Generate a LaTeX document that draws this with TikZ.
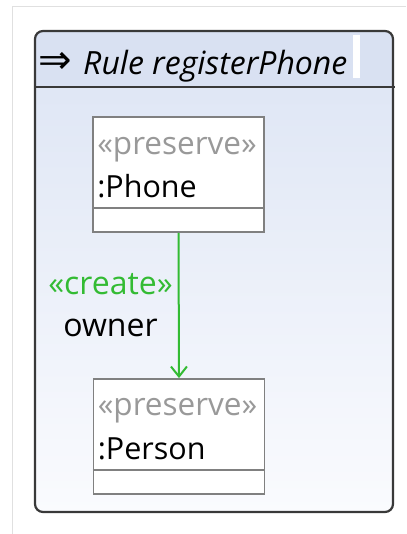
\documentclass[tikz,border=0pt]{standalone}
\usepackage{fontspec}
\setmainfont{Open Sans}
\newfontfamily\arrowfont{DejaVu Sans}
\usetikzlibrary{arrows.meta, positioning, calc}

\definecolor{headblue}{HTML}{D9E1F2}
\definecolor{bodytop}{HTML}{DCE4F4}
\definecolor{bodybot}{HTML}{FAFBFE}
\definecolor{stereogray}{HTML}{999999}
\definecolor{boxgray}{HTML}{808080}
\definecolor{creategreen}{HTML}{33BB33}
\definecolor{framegray}{HTML}{393939}

\tikzset{
  classbox/.style={draw=boxgray, line width=1.8pt, fill=white, minimum width=171pt, minimum height=115pt, inner sep=0pt},
  stereo/.style={anchor=base west, inner sep=0pt, text=stereogray, font=\fontsize{31.5}{36}\selectfont},
  classname/.style={anchor=base west, inner sep=0pt, font=\fontsize{30.5}{36}\selectfont},
}

\begin{document}
\begin{tikzpicture}[x=1pt, y=-1pt]
    \useasboundingbox (0,0) rectangle (406,534);

    % light outer frame
    \draw[black!12, line width=1pt] (12,534) -- (12,7) -- (406,7);

    % rule body and header
    \shade[top color=bodytop, bottom color=bodybot, rounded corners=8pt] (35,31) rectangle (393,512);
    \begin{scope}
        \clip[rounded corners=8pt] (35,31) rectangle (393,512);
        \fill[headblue] (35,31) rectangle (393,87);
    \end{scope}
    \fill[white] (353,35) rectangle (360,78);
    \draw[framegray, line width=2.2pt, rounded corners=8pt] (35,31) rectangle (393,512);
    \draw[framegray, line width=2pt] (35,87) -- (395,87);

    \node[anchor=base west, inner sep=0pt, font=\arrowfont\fontsize{40}{44}\selectfont] (ruleArrow) at (38,74) {⇒};
    \node[anchor=base west, inner sep=0pt, font=\fontsize{32}{36}\selectfont\itshape] (ruleTitle) at (83,75) {Rule registerPhone};

    % classes
    \node[classbox] (phone) at (178.5,174.5) {};
    \node[classbox] (person) at (179,436.5) {};
    \draw[boxgray, line width=1.8pt] ($(phone.south west)+(0,-25)$) -- ($(phone.south east)+(0,-25)$);
    \draw[boxgray, line width=1.8pt] ($(person.south west)+(0,-25)$) -- ($(person.south east)+(0,-25)$);

    \node[stereo] (phoneStereo) at ($(phone.north west)+(5,38)$) {«preserve»};
    \node[classname] (phoneName) at ($(phone.north west)+(5,81)$) {:Phone};
    \node[stereo] (personStereo) at ($(person.north west)+(5,37)$) {«preserve»};
    \node[classname] (personName) at ($(person.north west)+(5,81)$) {:Person};

    % created reference
    \draw[creategreen, line width=2pt, -{Straight Barb[length=10pt, width=16pt]}] (phone.south) -- (person.north)
        node[midway, left=5pt, inner sep=0pt, align=center, text=black, font=\fontsize{32}{42}\selectfont] (ownerLabel)
        {\textcolor{creategreen}{«create»}\\owner};
\end{tikzpicture}
\end{document}
